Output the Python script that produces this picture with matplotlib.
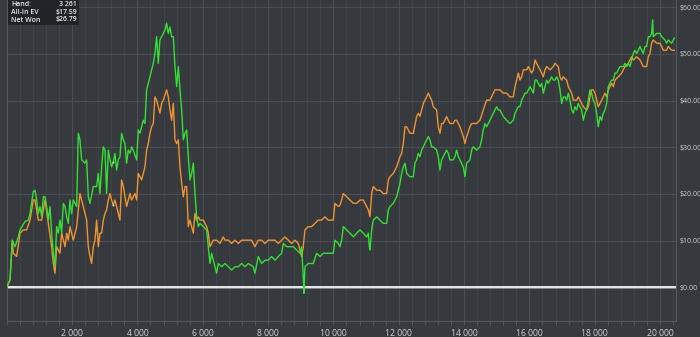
import matplotlib
matplotlib.use('Agg')
import matplotlib.pyplot as plt
from matplotlib.ticker import FuncFormatter, MultipleLocator

plt.rcParams['font.family'] = ['Open Sans', 'DejaVu Sans']

# Net Won (green) - hands and dollars
won_hands = [0, 101, 172, 254, 356, 407, 560, 662, 713, 815, 866, 917, 968, 1019, 1070,
             1121, 1172, 1223, 1274, 1325, 1376, 1427, 1478, 1529, 1580, 1631, 1682, 1733,
             1784, 1835, 1886, 1937, 1988, 2039, 2141, 2192, 2243, 2294, 2396, 2447, 2498,
             2549, 2651, 2753, 2804, 2855, 2906, 2957, 3008, 3059, 3110, 3161, 3212, 3261,
             3314, 3365, 3416, 3467, 3518, 3569, 3620, 3671, 3722, 3773, 3824, 3875, 3977,
             4028, 4079, 4181, 4232, 4283, 4334, 4436, 4487, 4538, 4589, 4640, 4691, 4793,
             4844, 4895, 4946, 4997, 5048, 5100, 5151, 5202, 5253, 5304, 5355, 5406, 5457,
             5508, 5559, 5610, 5661, 5712, 5763, 5814, 5865, 5916, 6018, 6120, 6222, 6273,
             6324, 6426, 6477, 6579, 6681, 6783, 6885, 6987, 7089, 7191, 7293, 7395, 7548,
             7599, 7701, 7803, 7905, 8007, 8109, 8211, 8313, 8415, 8466, 8568, 8670, 8772,
             8874, 8976, 9027, 9078, 9099, 9129, 9231, 9384, 9486, 9588, 9690, 9843, 9996,
             10047, 10149, 10202, 10253, 10304, 10406, 10508, 10610, 10712, 10814, 10916,
             11018, 11069, 11100, 11120, 11171, 11222, 11324, 11426, 11528, 11630, 11681,
             11732, 11834, 11936, 11987, 12038, 12089, 12140, 12191, 12242, 12344, 12446,
             12497, 12548, 12599, 12650, 12701, 12752, 12854, 12905, 12956, 13007, 13058,
             13160, 13211, 13262, 13313, 13364, 13466, 13517, 13568, 13670, 13721, 13772,
             13823, 13874, 13976, 14027, 14078, 14180, 14231, 14282, 14384, 14486, 14537,
             14588, 14639, 14690, 14792, 14894, 14945, 14996, 15047, 15098, 15200, 15302,
             15404, 15508, 15559, 15610, 15661, 15712, 15763, 15814, 15865, 15916, 15967,
             16018, 16069, 16120, 16171, 16222, 16273, 16324, 16375, 16426, 16477, 16528,
             16579, 16630, 16681, 16732, 16783, 16834, 16885, 16936, 16987, 17038, 17089,
             17140, 17191, 17242, 17293, 17344, 17395, 17446, 17497, 17548, 17599, 17650,
             17701, 17752, 17803, 17854, 17905, 17956, 18007, 18058, 18109, 18160, 18211,
             18262, 18313, 18364, 18415, 18466, 18517, 18568, 18619, 18670, 18721, 18772,
             18874, 18925, 18976, 19027, 19078, 19129, 19180, 19231, 19282, 19333, 19384,
             19435, 19486, 19537, 19588, 19639, 19690, 19741, 19772, 19792, 19894, 19996,
             20047, 20149, 20200, 20251, 20353, 20435]
won = [0.0, 1.6, 10.1, 8.7, 10.8, 12.3, 14.1, 14.4, 15.8, 20.5, 20.8, 18.7, 15.8, 17.3, 15.1,
       19.4, 19.4, 17.3, 14.4, 17.3, 11.6, 7.3, 4.4, 13.0, 11.6, 14.4, 11.6, 18.0,
       17.3, 15.1, 13.7, 18.7, 15.8, 18.7, 17.3, 33.0, 31.6, 27.3, 26.6, 27.3, 19.4,
       18.0, 21.6, 21.6, 24.4, 20.1, 25.8, 30.1, 29.4, 20.1, 29.4, 27.3, 25.8, 26.79,
       28.7, 25.1, 27.3, 28.0, 33.0, 31.6, 30.8, 26.6, 29.4, 28.7, 30.1, 29.4, 27.3,
       33.7, 33.0, 35.8, 35.1, 42.3, 43.7, 46.6, 48.0, 50.1, 53.7, 48.0, 53.0, 54.4,
       55.1, 56.6, 54.4, 55.8, 53.7, 53.7, 47.3, 43.0, 47.3, 42.3, 38.0, 31.6, 33.0,
       33.7, 28.0, 23.0, 24.4, 26.6, 20.1, 15.1, 13.0, 13.7, 13.0, 12.3, 5.1, 7.3,
       5.8, 3.0, 5.1, 4.4, 5.1, 4.4, 3.7, 4.4, 4.4, 5.1, 4.4, 5.1, 4.4,
       3.0, 6.6, 5.1, 5.8, 5.8, 6.6, 5.8, 6.6, 7.3, 9.4, 8.7, 8.7, 8.7,
       8.0, 7.3, 8.7, 2.3, -1.3, 4.4, 5.1, 5.1, 7.3, 6.6, 7.3, 7.3, 7.3,
       10.1, 9.4, 8.7, 10.1, 13.0, 12.3, 11.6, 10.8, 11.6, 12.3, 11.6,
       10.8, 11.6, 8.7, 8.0, 12.3, 14.4, 15.1, 14.4, 13.7, 13.7, 16.6,
       17.3, 18.0, 19.4, 20.8, 22.3, 24.4, 25.8, 26.6, 24.4, 23.7, 23.7,
       26.6, 27.3, 28.7, 28.0, 29.4, 30.1, 31.6, 32.3, 31.6, 30.1, 30.1,
       29.4, 28.0, 25.1, 27.3, 28.0, 29.4, 28.7, 27.3, 27.3, 28.0, 29.4,
       28.0, 27.3, 25.8, 23.7, 26.6, 27.3, 29.4, 30.1, 29.4, 30.1, 31.6,
       33.7, 35.1, 34.4, 35.8, 37.3, 38.0, 38.7, 38.0, 38.0, 36.6, 35.8,
       35.1, 35.8, 37.3, 38.0, 38.7, 38.7, 40.1, 40.8, 41.6, 41.6, 42.3,
       43.0, 42.3, 41.6, 44.4, 44.4, 43.7, 43.0, 43.7, 41.6, 43.0, 44.4,
       43.7, 44.4, 45.1, 44.4, 44.4, 45.1, 44.4, 42.3, 39.4, 40.8, 40.8,
       40.1, 41.6, 40.1, 38.0, 37.3, 38.7, 38.0, 39.4, 38.7, 38.0, 35.8,
       37.3, 38.0, 40.1, 42.3, 41.6, 40.1, 39.4, 37.3, 34.4, 36.6, 35.8,
       37.3, 38.0, 39.4, 43.0, 43.7, 44.4, 44.4, 45.9, 45.9, 46.6, 47.3,
       47.3, 48.0, 47.3, 48.0, 47.3, 48.7, 50.1, 50.8, 50.1, 50.8, 51.6,
       50.8, 50.1, 51.6, 51.6, 53.7, 53.7, 54.4, 57.3, 53.7, 54.4, 54.4,
       53.7, 53.0, 52.3, 53.0, 52.3, 53.4]

# All-In EV (orange)
ev_hands = [0, 101, 172, 203, 305, 407, 509, 611, 713, 815, 866, 968, 1070, 1172, 1274,
            1376, 1427, 1478, 1529, 1631, 1682, 1784, 1835, 1886, 1937, 2039, 2141, 2243,
            2294, 2396, 2447, 2498, 2549, 2600, 2651, 2702, 2753, 2804, 2855, 2906, 2957,
            3008, 3059, 3110, 3161, 3212, 3261, 3314, 3365, 3416, 3467, 3518, 3569, 3620,
            3671, 3773, 3824, 3875, 3926, 3977, 4028, 4130, 4181, 4232, 4283, 4334, 4385,
            4436, 4487, 4538, 4589, 4640, 4691, 4742, 4793, 4895, 4946, 4998, 5049, 5100,
            5151, 5202, 5253, 5304, 5355, 5406, 5457, 5508, 5559, 5610, 5661, 5712, 5763,
            5814, 5865, 5916, 6018, 6120, 6171, 6222, 6324, 6426, 6528, 6630, 6681, 6783,
            6885, 6987, 7089, 7191, 7293, 7395, 7497, 7599, 7701, 7803, 7905, 8007, 8109,
            8211, 8313, 8415, 8517, 8619, 8721, 8823, 8925, 9027, 9078, 9129, 9231, 9333,
            9435, 9537, 9639, 9741, 9843, 9996, 10047, 10149, 10202, 10253, 10304, 10406,
            10508, 10610, 10712, 10814, 10916, 11018, 11069, 11120, 11171, 11222, 11324,
            11426, 11528, 11630, 11681, 11732, 11834, 11936, 12038, 12089, 12140, 12191,
            12242, 12344, 12446, 12548, 12599, 12650, 12752, 12803, 12854, 12905, 12956,
            13007, 13058, 13160, 13211, 13262, 13313, 13364, 13466, 13517, 13568, 13670,
            13721, 13772, 13823, 13874, 13976, 14027, 14078, 14180, 14231, 14282, 14384,
            14486, 14588, 14690, 14792, 14894, 14945, 14996, 15098, 15200, 15302, 15404,
            15508, 15559, 15610, 15661, 15712, 15763, 15814, 15916, 15967, 16018, 16069,
            16120, 16171, 16222, 16273, 16324, 16375, 16426, 16477, 16528, 16630, 16732,
            16783, 16885, 16936, 16987, 17038, 17140, 17191, 17242, 17293, 17344, 17446,
            17497, 17548, 17599, 17650, 17752, 17803, 17854, 17905, 17956, 18007, 18058,
            18109, 18160, 18211, 18262, 18313, 18364, 18415, 18466, 18517, 18568, 18619,
            18721, 18823, 18874, 18925, 19027, 19078, 19129, 19180, 19282, 19384, 19486,
            19588, 19639, 19690, 19741, 19792, 19894, 19996, 20047, 20099, 20200, 20251,
            20353, 20435]
ev = [0.0, 1.6, 10.1, 7.3, 6.6, 11.6, 12.3, 12.3, 14.4, 18.7, 18.7, 14.4, 14.4, 18.7, 13.7,
      8.7, 5.1, 3.0, 8.7, 7.3, 11.6, 8.7, 11.6, 10.1, 13.0, 10.1, 13.0, 20.1,
      18.7, 15.8, 14.4, 8.7, 6.6, 5.1, 8.7, 10.1, 14.4, 8.7, 11.6, 11.6, 14.4,
      15.8, 16.6, 18.7, 20.1, 18.7, 17.59, 18.7, 17.3, 15.8, 14.4, 23.0, 21.6, 19.4,
      17.3, 20.1, 18.7, 19.4, 20.1, 18.7, 24.4, 23.0, 24.4, 25.8, 29.4, 30.8, 33.0,
      34.4, 35.1, 40.8, 40.1, 38.7, 37.3, 39.4, 40.1, 42.3, 40.8, 38.0, 35.8, 39.4,
      31.6, 30.8, 31.6, 25.8, 22.3, 19.4, 21.6, 21.6, 13.0, 14.4, 13.0, 11.6, 15.8,
      14.4, 15.1, 14.4, 14.4, 13.0, 11.6, 8.7, 10.1, 10.1, 9.4, 10.8, 10.1, 10.1,
      9.4, 10.1, 9.4, 10.1, 10.1, 10.1, 10.1, 8.7, 10.1, 10.1, 9.4, 10.1, 10.1,
      10.1, 9.4, 10.1, 10.8, 10.1, 9.4, 10.1, 9.4, 6.6, 8.7, 12.3, 13.0, 13.0,
      13.7, 14.4, 14.4, 15.1, 14.4, 14.4, 18.0, 17.3, 17.6, 18.7, 20.1, 19.4,
      18.7, 18.0, 18.0, 18.7, 18.7, 17.3, 16.6, 15.1, 20.1, 21.6, 20.8,
      20.8, 20.1, 20.1, 23.0, 23.7, 24.4, 25.8, 28.0, 28.7, 30.8, 34.4,
      34.4, 33.0, 33.0, 36.6, 37.3, 36.6, 39.4, 40.1, 40.8, 41.6, 40.8,
      40.1, 38.7, 38.0, 34.4, 33.0, 35.1, 35.1, 36.6, 35.8, 35.1, 35.1,
      35.8, 35.8, 35.1, 34.4, 32.3, 30.8, 32.3, 34.4, 35.1, 35.1, 35.1,
      35.8, 38.0, 40.1, 40.1, 41.6, 42.3, 42.3, 42.3, 41.6, 41.6, 40.8,
      40.8, 43.0, 44.4, 45.9, 44.4, 45.1, 46.6, 46.6, 47.3, 46.6, 45.9,
      46.6, 48.7, 48.0, 47.3, 46.6, 45.9, 45.1, 46.6, 47.3, 46.6, 47.3,
      48.0, 47.3, 45.1, 44.4, 45.1, 44.4, 43.0, 42.3, 41.6, 40.1, 40.1,
      40.8, 40.1, 39.4, 38.7, 38.0, 38.7, 40.8, 42.3, 42.3, 41.6, 40.1,
      38.7, 39.4, 40.1, 40.8, 41.6, 40.8, 42.3, 43.0, 43.7, 43.0, 44.4,
      45.1, 45.9, 46.6, 47.3, 48.0, 48.7, 49.4, 48.7, 49.4, 48.7, 47.3,
      47.3, 49.4, 50.1, 52.3, 53.0, 52.3, 52.3, 51.6, 50.8, 50.8, 51.6,
      50.8, 50.8]

y_ticks = [0, 10, 20, 30, 40, 50, 60]
hover_hand = 3261
hover_ev = 17.59
hover_won = 26.79

bg = '#36393e'
fig = plt.figure(figsize=(7.0, 3.37), dpi=100, facecolor=bg)
ax = fig.add_axes([6.7 / 700, 16 / 337, 669 / 700, 321 / 337], facecolor=bg)

ax.set_xlim(0, 20478)
ax.set_ylim(-7.22, 61.56)

ax.xaxis.set_major_locator(MultipleLocator(2000))
ax.xaxis.set_minor_locator(MultipleLocator(400))
ax.set_yticks(y_ticks)
ax.xaxis.set_major_formatter(FuncFormatter(lambda v, p: '' if v == 0 else f'{int(v):,}'.replace(',', ' ')))
ax.yaxis.set_major_formatter(FuncFormatter(lambda v, p: f'${v:.2f}'))
ax.yaxis.tick_right()

ax.grid(which='major', axis='both', color='#4a4d52', lw=0.8)
ax.grid(which='minor', axis='x', color='#414449', lw=0.6)
ax.set_axisbelow(True)

ax.spines['top'].set_visible(False)
for s in ['left', 'right', 'bottom']:
    ax.spines[s].set_color('#55585d')
    ax.spines[s].set_linewidth(0.8)

ax.tick_params(axis='x', which='both', colors='#55585d', labelcolor='#d0d0d0',
               labelsize=6.2, length=3, width=0.6, pad=3)
ax.tick_params(axis='y', colors='#55585d', labelcolor='#d0d0d0', labelsize=5.0,
               length=0, pad=2.5)

# zero line
ax.axhline(0, color='#8e9093', lw=2.0, zorder=2)
ax.axhline(0, color='white', lw=1.1, zorder=2.1)

ax.plot(ev_hands, ev, color='#f0952f', lw=1.0, zorder=3)
ax.plot(won_hands, won, color='#33e033', lw=1.0, zorder=3.2)

ax.scatter([hover_hand, hover_hand], [hover_won, hover_ev], s=2, color='#f0f0f0',
           linewidths=0, zorder=5)

# hover info box
box = plt.Rectangle((8 / 700, 1 - 25 / 337), 71 / 700, 25 / 337, transform=fig.transFigure,
                    facecolor='#1f2124', edgecolor='none', alpha=0.9, zorder=10)
fig.patches.append(box)
rows = [('Hand:', f'{hover_hand:,}'.replace(',', ' ')),
        ('All-In EV', f'${hover_ev:.2f}'),
        ('Net Won', f'${hover_won:.2f}')]
for i, (lab, val) in enumerate(rows):
    yy = 1 - (4.2 + i * 7.9) / 337
    fig.text(11 / 700, yy, lab, color='#e8e8e8', fontsize=5.0, fontweight='semibold',
             va='center', ha='left', zorder=11)
    fig.text(77 / 700, yy, val, color='#e8e8e8', fontsize=5.0, fontweight='semibold',
             va='center', ha='right', zorder=11)

fig.savefig('out.png', dpi=100, facecolor=bg)
